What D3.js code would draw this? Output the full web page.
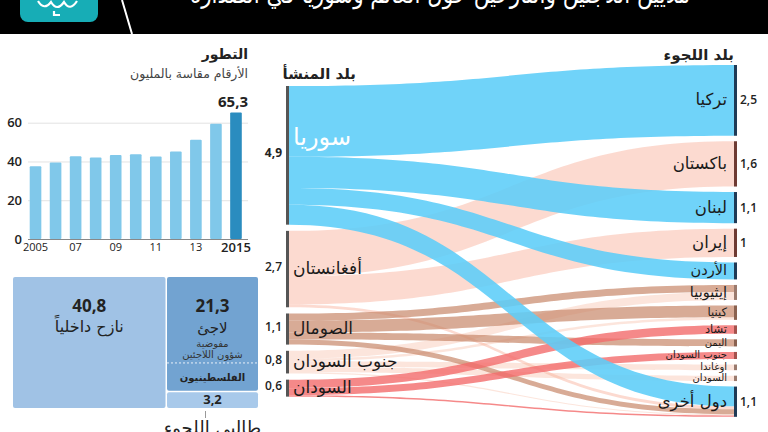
<!DOCTYPE html>
<html lang="ar">
<head>
<meta charset="utf-8">
<script src="https://cdn.jsdelivr.net/npm/d3@7"></script>
<style>
body { margin: 0; background: #fff; }
#canvas svg { display: block; }
text { font-family: "Open Sans", "DejaVu Sans", sans-serif; }
.ar { font-family: "DejaVu Sans", sans-serif; }
</style>
</head>
<body>
<div id="canvas"></div>
<script>
// ----------------------------------------------------------
// DATA -----------------------------------------------------
// ----------------------------------------------------------
var years = [2005, 2006, 2007, 2008, 2009, 2010, 2011, 2012, 2013, 2014, 2015];
var displaced_total = [37.5, 39.5, 42.7, 42.0, 43.3, 43.7, 42.5, 45.2, 51.2, 59.5, 65.3];
var y_ticks = [0, 20, 40, 60];
var x_tick_years = [2005, 2007, 2009, 2011, 2013, 2015];

var split_names = ["نازح داخلياً", "لاجئ", "طالبي اللجوء"];
var split_values = [40.8, 21.3, 3.2];
var split_labels = ["40,8", "21,3", "3,2"];
var palestinian_value = 5.2;

var origin_names = ["سوريا", "أفغانستان", "الصومال", "جنوب السودان", "السودان"];
var origin_labels = ["4,9", "2,7", "1,1", "0,8", "0,6"];
var host_names = ["تركيا", "باكستان", "لبنان", "إيران", "الأردن", "إيثيوبيا", "كينيا",
  "تشاد", "اليمن", "جنوب السودان", "اوغاندا", "السودان", "دول أخرى"];
var host_labels = ["2,5", "1,6", "1,1", "1", "", "", "", "", "", "", "", "", "1,1"];

// flows: origin index -> host index, in millions
var flow_source = [0, 0, 0, 0, 1, 1, 1, 2, 2, 2, 2, 3, 3, 3, 3, 3, 4, 4, 4];
var flow_target = [0, 2, 4, 12, 1, 3, 12, 5, 6, 8, 12, 5, 6, 10, 11, 12, 7, 9, 12];
var flow_values = [2.5, 1.1, 0.6, 0.7, 1.6, 1.0, 0.1, 0.25, 0.42, 0.25, 0.18, 0.28, 0.09, 0.2, 0.19, 0.04, 0.3, 0.25, 0.05];

var origin_colors = ["#5ccdf8", "#f9a88f", "#c8876a", "#f6b49a", "#f26b6b"];
var origin_opacity = [0.88, 0.42, 0.7, 0.35, 0.8];
var bar_colors = ["#1f3a56", "#6e3b33", "#8a6250", "#9a7a6d", "#a4524d"];

// ----------------------------------------------------------
// STRUCTURE ------------------------------------------------
// ----------------------------------------------------------
var W = 768, H = 432;

var container = d3.select("#canvas").append("svg")
  .attr("width", W)
  .attr("height", H)
  .style("background-color", "#fff");

var header_group = container.append("g").attr("class", "header_group");
var bars_group = container.append("g").attr("class", "bars_group");
var tree_group = container.append("g").attr("class", "tree_group");
var sankey_group = container.append("g").attr("class", "sankey_group");

// ----------------------------------------------------------
// HEADER ---------------------------------------------------
// ----------------------------------------------------------
header_group.append("rect")
  .attr("x", 0).attr("y", 0).attr("width", W).attr("height", 34)
  .style("fill", "#000");

header_group.append("rect")
  .attr("x", 20).attr("y", -10).attr("width", 78).attr("height", 32).attr("rx", 8)
  .style("fill", "#17adb6");

// logo glyph (rough)
header_group.append("path")
  .attr("d", "M38,1 q6,10 13,1 q6,10 13,0 q6,10 13,-1 M54,11 l0,4 l6,0")
  .style("fill", "none").style("stroke", "#fff").style("stroke-width", 2.2);

header_group.append("line")
  .attr("x1", 122).attr("y1", 0).attr("x2", 132).attr("y2", 34)
  .style("stroke", "#fff").style("stroke-width", 2);

header_group.append("text")
  .attr("class", "ar")
  .attr("x", 690).attr("y", 3)
  .attr("text-anchor", "end")
  .attr("textLength", 500)
  .attr("lengthAdjust", "spacingAndGlyphs")
  .style("font-size", "26px").style("fill", "#fff")
  .text("ملايين اللاجئين والنازحين حول العالم وسوريا في الصدارة");

// ----------------------------------------------------------
// BAR CHART ------------------------------------------------
// ----------------------------------------------------------
var xBand = d3.scaleBand()
  .domain(years)
  .range([25.5, 246])
  .paddingInner(0.42)
  .paddingOuter(0.21);

var yBar = d3.scaleLinear()
  .domain([0, 60])
  .range([239, 122.7]);

bars_group.append("text")
  .attr("class", "ar")
  .attr("x", 248).attr("y", 59)
  .attr("text-anchor", "end")
  .style("font-size", "14px").style("font-weight", "bold").style("fill", "#222")
  .text("التطور");

bars_group.append("text")
  .attr("class", "ar")
  .attr("x", 248).attr("y", 78)
  .attr("text-anchor", "end")
  .style("font-size", "12.5px").style("fill", "#444")
  .text("الأرقام مقاسة بالمليون");

var yAxis = bars_group.append("g")
  .attr("transform", "translate(28,0)")
  .call(d3.axisLeft(yBar).tickValues(y_ticks).tickSize(-220).tickPadding(6));
yAxis.select(".domain").remove();
yAxis.selectAll(".tick line").style("stroke", (d) => d === 0 ? "#888" : "#e3e3e3");
yAxis.selectAll(".tick text")
  .style("font-size", "13px").style("font-weight", "600").style("fill", "#222")
  .style("font-family", "'Open Sans', sans-serif");

bars_group.selectAll(".bar")
  .data(years)
  .enter()
  .append("rect")
  .attr("class", "bar")
  .attr("x", (d) => xBand(d))
  .attr("width", xBand.bandwidth())
  .attr("y", (d, i) => yBar(displaced_total[i]))
  .attr("height", (d, i) => yBar(0) - yBar(displaced_total[i]))
  .attr("rx", 1)
  .style("fill", (d, i) => i === years.length - 1 ? "#2a8cbf" : "#80c8ea");

var xAxis = bars_group.append("g")
  .attr("transform", "translate(0,239)")
  .call(d3.axisBottom(xBand).tickValues(x_tick_years).tickSize(0).tickPadding(4)
    .tickFormat((d) => (d === 2005 || d === 2015) ? String(d) : String(d).slice(2)));
xAxis.select(".domain").remove();
xAxis.selectAll(".tick text")
  .style("font-family", "'Open Sans', sans-serif")
  .style("font-size", (d) => d === 2015 ? "13px" : "11px")
  .style("font-weight", (d) => d === 2015 ? "600" : "500")
  .style("fill", "#222");

bars_group.append("text")
  .attr("x", 248).attr("y", 107)
  .attr("text-anchor", "end")
  .style("font-size", "15px").style("font-weight", "bold").style("fill", "#222")
  .text("65,3");

// ----------------------------------------------------------
// TREEMAP --------------------------------------------------
// ----------------------------------------------------------
var tree_root = d3.hierarchy({
  children: [
    { name: 0, value: split_values[0] },
    { children: [{ name: 1, value: split_values[1] }, { name: 2, value: split_values[2] }] }
  ]
}).sum((d) => d.value || 0);

d3.treemap()
  .tile(d3.treemapSliceDice)
  .size([245, 131])
  .paddingInner(1.5)
  (tree_root);

var tree_colors = ["#a0c2e5", "#72a3d1", "#a8c9ea"];
var tree_box = tree_group.append("g").attr("transform", "translate(13,277)");

var leaves = tree_root.leaves();
tree_box.selectAll(".cell")
  .data(leaves)
  .enter()
  .append("rect")
  .attr("class", "cell")
  .attr("x", (d) => d.x0)
  .attr("y", (d) => d.y0)
  .attr("width", (d) => d.x1 - d.x0)
  .attr("height", (d) => d.y1 - d.y0)
  .attr("rx", 2)
  .style("fill", (d) => tree_colors[d.data.name]);

var idp = leaves[0], ref = leaves[1], asy = leaves[2];
var cx = (d) => (d.x0 + d.x1) / 2;

tree_box.append("text").attr("x", cx(idp)).attr("y", 35).attr("text-anchor", "middle")
  .style("font-size", "17px").style("font-weight", "bold").style("fill", "#222")
  .text(split_labels[0]);
tree_box.append("text").attr("class", "ar").attr("x", cx(idp)).attr("y", 55).attr("text-anchor", "middle")
  .style("font-size", "16px").style("fill", "#222")
  .text(split_names[0]);

tree_box.append("text").attr("x", cx(ref)).attr("y", 35).attr("text-anchor", "middle")
  .style("font-size", "17px").style("font-weight", "bold").style("fill", "#222")
  .text(split_labels[1]);
tree_box.append("text").attr("class", "ar").attr("x", cx(ref)).attr("y", 56).attr("text-anchor", "middle")
  .style("font-size", "15px").style("fill", "#222")
  .text(split_names[1]);
tree_box.append("text").attr("class", "ar").attr("x", cx(ref)).attr("y", 70).attr("text-anchor", "middle")
  .style("font-size", "10px").style("fill", "#333")
  .text("مفوضية");
tree_box.append("text").attr("class", "ar").attr("x", cx(ref)).attr("y", 81).attr("text-anchor", "middle")
  .style("font-size", "10px").style("fill", "#333")
  .text("شؤون اللاجئين");

var palScale = d3.scaleLinear().domain([0, split_values[1]]).range([ref.y1, ref.y0]);
tree_box.append("line")
  .attr("x1", ref.x0).attr("x2", ref.x1)
  .attr("y1", palScale(palestinian_value)).attr("y2", palScale(palestinian_value))
  .style("stroke", "#e8f0f8").style("stroke-width", 1).style("stroke-dasharray", "2,2");
tree_box.append("text").attr("class", "ar").attr("x", cx(ref)).attr("y", (palScale(palestinian_value) + ref.y1) / 2 + 4)
  .attr("text-anchor", "middle")
  .style("font-size", "10px").style("font-weight", "bold").style("fill", "#222")
  .text("الفلسطينيون");

tree_box.append("text").attr("x", cx(asy)).attr("y", asy.y1 - 4).attr("text-anchor", "middle")
  .style("font-size", "13px").style("font-weight", "bold").style("fill", "#222")
  .text(split_labels[2]);
tree_box.append("line")
  .attr("x1", cx(asy) - 7).attr("x2", cx(asy) - 7)
  .attr("y1", asy.y1 + 3).attr("y2", asy.y1 + 10)
  .style("stroke", "#999").style("stroke-width", 1);
tree_box.append("text").attr("class", "ar").attr("x", cx(asy)).attr("y", asy.y1 + 26).attr("text-anchor", "middle")
  .style("font-size", "18px").style("fill", "#222")
  .text(split_names[2]);

// ----------------------------------------------------------
// SANKEY ---------------------------------------------------
// ----------------------------------------------------------
var vScale = d3.scaleLinear().domain([0, 1]).range([0, 28.3]);
var x_left = 289, x_right = 734;

var flows = flow_values.map((v, i) => ({ s: flow_source[i], t: flow_target[i], v: v }));

function layout_nodes(names, key, top, gap) {
  var y = top;
  return names.map((name, i) => {
    var val = d3.sum(flows.filter((f) => f[key] === i), (f) => f.v);
    var node = { name: name, i: i, value: val, y0: y, y1: y + vScale(val) };
    y = node.y1 + gap;
    return node;
  });
}

var left_nodes = layout_nodes(origin_names, "s", 86, 6.2);
var right_nodes = layout_nodes(host_names, "t", 65, 5.5);

// stack links at both ends
left_nodes.forEach((n) => {
  var y = n.y0;
  flows.filter((f) => f.s === n.i).sort((a, b) => a.t - b.t).forEach((f) => {
    f.sy = y; y += vScale(f.v);
  });
});
right_nodes.forEach((n) => {
  var y = n.y0;
  flows.filter((f) => f.t === n.i).sort((a, b) => a.s - b.s).forEach((f) => {
    f.ty = y; y += vScale(f.v);
  });
});

function ribbon(f) {
  var w = vScale(f.v), xm = (x_left + x_right) / 2;
  var p = d3.path();
  p.moveTo(x_left, f.sy);
  p.bezierCurveTo(xm, f.sy, xm, f.ty, x_right, f.ty);
  p.lineTo(x_right, f.ty + w);
  p.bezierCurveTo(xm, f.ty + w, xm, f.sy + w, x_left, f.sy + w);
  p.closePath();
  return p.toString();
}

var draw_order = [1, 3, 2, 4, 0];
var link_group = sankey_group.append("g").attr("class", "links");
draw_order.forEach((s) => {
  link_group.selectAll(null)
    .data(flows.filter((f) => f.s === s))
    .enter()
    .append("path")
    .attr("d", ribbon)
    .style("fill", origin_colors[s])
    .style("fill-opacity", origin_opacity[s]);
});

// left node bars + labels
sankey_group.selectAll(".lnode")
  .data(left_nodes)
  .enter()
  .append("rect")
  .attr("class", "lnode")
  .attr("x", x_left - 3).attr("width", 3)
  .attr("y", (d) => d.y0).attr("height", (d) => d.y1 - d.y0)
  .style("fill", "#555");

sankey_group.selectAll(".lname")
  .data(left_nodes)
  .enter()
  .append("text")
  .attr("class", "ar lname")
  .attr("x", x_left + 4)
  .attr("y", (d) => d.i === 0 ? (d.y0 + d.y1) / 2 - 10 : (d.y0 + d.y1) / 2 + 5)
  .style("font-size", (d) => d.i === 0 ? "24px" : "17px")
  .style("fill", (d) => d.i === 0 ? "#fff" : "#1a1a1a")
  .text((d) => d.name);

sankey_group.selectAll(".lval")
  .data(left_nodes)
  .enter()
  .append("text")
  .attr("class", "lval")
  .attr("x", x_left - 7)
  .attr("y", (d) => (d.y0 + d.y1) / 2 + 2)
  .attr("text-anchor", "end")
  .style("font-size", "12px").style("font-weight", (d) => d.i === 0 ? "bold" : "600").style("fill", "#222")
  .text((d, i) => origin_labels[i]);

// right node bars + labels
function dominant(n) {
  var inc = flows.filter((f) => f.t === n.i);
  return d3.greatest(inc, (f) => f.v).s;
}

sankey_group.selectAll(".rnode")
  .data(right_nodes)
  .enter()
  .append("rect")
  .attr("class", "rnode")
  .attr("x", x_right).attr("width", 3)
  .attr("y", (d) => d.y0).attr("height", (d) => d.y1 - d.y0)
  .style("fill", (d) => bar_colors[dominant(d)]);

var rsize = d3.scaleThreshold().domain([0.28, 0.52, 0.9]).range([10, 11.5, 14.5, 16.5]);

sankey_group.selectAll(".rname")
  .data(right_nodes)
  .enter()
  .append("text")
  .attr("class", "ar rname")
  .attr("x", x_right - 7)
  .attr("y", (d) => (d.y0 + d.y1) / 2 + rsize(d.value) * 0.3)
  .attr("text-anchor", "end")
  .style("font-size", (d) => rsize(d.value) + "px")
  .style("fill", "#1a1a1a")
  .text((d) => d.name);

sankey_group.selectAll(".rval")
  .data(right_nodes)
  .enter()
  .append("text")
  .attr("class", "rval")
  .attr("x", x_right + 6)
  .attr("y", (d) => (d.y0 + d.y1) / 2 + 4)
  .style("font-size", "12px").style("font-weight", "600").style("fill", "#222")
  .text((d, i) => host_labels[i]);

// column titles
sankey_group.append("text").attr("class", "ar")
  .attr("x", 356).attr("y", 79).attr("text-anchor", "end")
  .style("font-size", "15px").style("font-weight", "bold").style("fill", "#222")
  .text("بلد المنشأ");
sankey_group.append("text").attr("class", "ar")
  .attr("x", 734).attr("y", 60).attr("text-anchor", "end")
  .style("font-size", "15px").style("font-weight", "bold").style("fill", "#222")
  .text("بلد اللجوء");
</script>
</body>
</html>
